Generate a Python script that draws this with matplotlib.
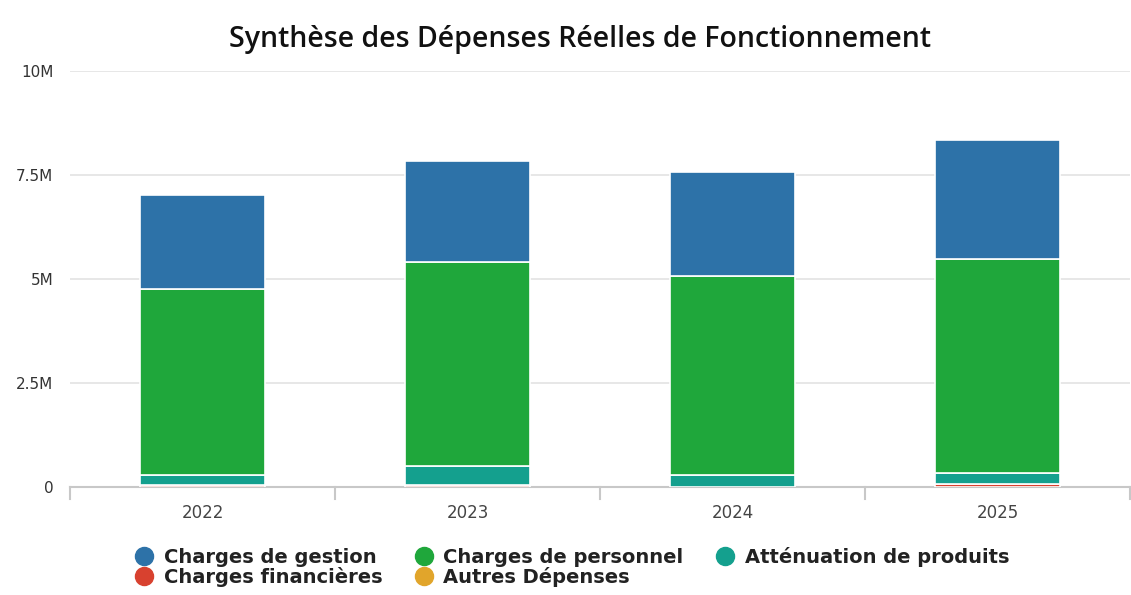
import matplotlib
matplotlib.use("Agg")
import matplotlib.pyplot as plt
from matplotlib.lines import Line2D
import numpy as np

plt.rcParams.update({"font.family": "DejaVu Sans"})

# données (en millions d'euros)
years = ["2022", "2023", "2024", "2025"]
gestion = [2.25, 2.43, 2.49, 2.85]
personnel = [4.48, 4.90, 4.79, 5.16]
attenuation = [0.22, 0.44, 0.28, 0.26]
financieres = [0.05, 0.05, 0.01, 0.06]
autres = [0.01, 0.01, 0.00, 0.01]

yticks = [0, 2.5, 5, 7.5, 10]
ytick_labels = ["0", "2.5M", "5M", "7.5M", "10M"]

BLUE, GREEN, TEAL = "#2d72a8", "#1fa73b", "#14a08e"
RED, ORANGE = "#d8412f", "#e1a52b"

fig = plt.figure(figsize=(11.31, 5.95), dpi=100)
ax = fig.add_axes([70 / 1131, 1 - 487 / 595, 1060 / 1131, 416 / 595])

x = np.arange(len(years))
w = 0.47
# empilement Highcharts : la première série est en haut
stack = [(autres, ORANGE, "Autres Dépenses"),
         (financieres, RED, "Charges financières"),
         (attenuation, TEAL, "Atténuation de produits"),
         (personnel, GREEN, "Charges de personnel"),
         (gestion, BLUE, "Charges de gestion")]
bottom = np.zeros(len(years))
for vals, col, lab in stack:
    v = np.array(vals)
    ax.bar(x, v, w, bottom=bottom, color=col, edgecolor="white", linewidth=1.2, zorder=3)
    bottom += v

ax.set_xlim(-0.5, len(years) - 0.5)
ax.set_ylim(0, 10)
ax.set_yticks(yticks)
ax.set_yticklabels(ytick_labels, fontsize=11, color="#333333", fontweight="medium")
ax.grid(axis="y", color="#e3e3e3", lw=1.2, zorder=0)
ax.tick_params(axis="y", length=0, pad=12)

ax.set_xticks(x)
ax.set_xticklabels(years, fontsize=12, color="#444444")
ax.tick_params(axis="x", length=0, pad=12)
for b in np.arange(-0.5, len(years), 1.0):
    ax.plot([b, b], [0, -0.3], color="#c8c8c8", lw=1.5, clip_on=False, zorder=2)

for s in ["top", "right", "left"]:
    ax.spines[s].set_visible(False)
ax.spines["bottom"].set_color("#c8c8c8")
ax.spines["bottom"].set_linewidth(1.5)

fig.text(0.513, 1 - 39 / 595, "Synthèse des Dépenses Réelles de Fonctionnement",
         ha="center", va="center", fontsize=20.5, fontweight="semibold",
         family="Open Sans", color="#111111")

# légende sur 3 colonnes, remplie colonne par colonne
order = [4, 1, 3, 0, 2]
handles = [Line2D([], [], marker="o", ls="", markersize=13, color=stack[i][1]) for i in order]
labels = [stack[i][2] for i in order]
fig.legend(handles, labels, ncol=3, loc="center", bbox_to_anchor=(0.506, 1 - 567 / 595),
           frameon=False, prop={"weight": "bold", "size": 14},
           labelspacing=0.0, columnspacing=1.7, handletextpad=0.55, handlelength=0.9,
           borderpad=0.2, labelcolor="#222222")

fig.savefig("out.png", dpi=100)
